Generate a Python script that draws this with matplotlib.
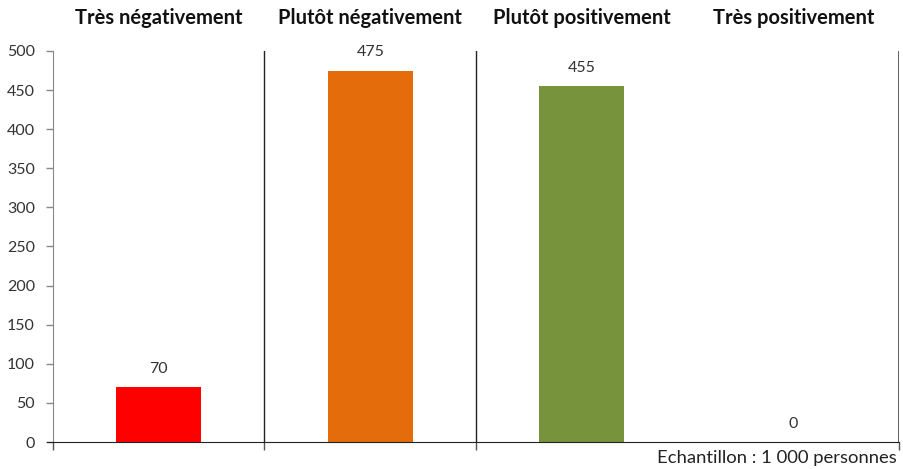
import matplotlib.pyplot as plt

# categories and values
categories = ["Très négativement", "Plutôt négativement", "Plutôt positivement", "Très positivement"]
values = [70, 475, 455, 0]
colors = ["#FF0000", "#E46C0A", "#77933C", "#4F81BD"]
yticks = [0, 50, 100, 150, 200, 250, 300, 350, 400, 450, 500]

plt.rcParams["font.family"] = ["Lato", "DejaVu Sans"]

fig = plt.figure(figsize=(9.04, 4.69), dpi=100)
ax = fig.add_axes([53 / 904, 1 - 442 / 469, 846 / 904, 391 / 469])

x = list(range(len(categories)))
ax.bar(x, values, width=0.4, color=colors)

ax.set_xlim(-0.5, 3.5)
ax.set_ylim(0, 500)
ax.set_yticks(yticks)
ax.tick_params(axis="y", direction="out", length=5, width=1, color="#888888",
               labelsize=11.5, labelcolor="#333333", pad=8)
ax.set_xticks([-0.5, 0.5, 1.5, 3.5])
ax.set_xticklabels([])
ax.tick_params(axis="x", direction="out", length=6, width=1, color="#555555")

for s in ["top", "right"]:
    ax.spines[s].set_visible(False)
ax.spines["left"].set_color("#888888")
ax.spines["bottom"].set_color("#222222")
ax.spines["bottom"].set_bounds(-0.53, 3.5)

# separators between groups and right border
for b in [0.5, 1.5]:
    ax.axvline(b, color="#222222", lw=1)
ax.axvline(3.5, color="#444444", lw=1.2)

# group titles on top
for i, c in enumerate(categories):
    ax.text(i, 1.084, c, transform=ax.get_xaxis_transform(), ha="center", va="center",
            fontsize=14.5, fontweight="bold", color="#111111")

# value labels
for i, v in enumerate(values):
    ax.annotate(str(v), (i, v), xytext=(0, 8), textcoords="offset points",
                ha="center", va="bottom", fontsize=11.5, color="#333333")

fig.text(897 / 904, 1 - 458 / 469, "Echantillon : 1 000 personnes", ha="right", va="center",
         fontsize=13.3, color="#222222")

fig.savefig("out.png", dpi=100)
